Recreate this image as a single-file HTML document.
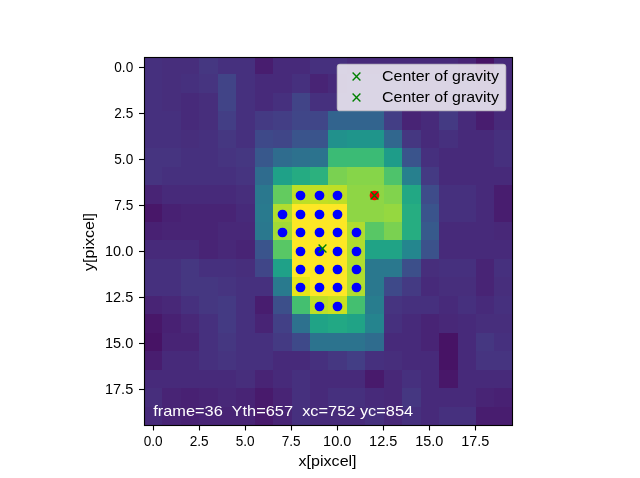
<!DOCTYPE html><html><head><meta charset="utf-8"><style>html,body{margin:0;padding:0;background:#fff;width:640px;height:478px;overflow:hidden}svg{display:block;will-change:transform}text{font-family:"Liberation Sans",sans-serif}</style></head><body>
<svg width="640" height="478" viewBox="0 0 640 478">
<rect width="640" height="478" fill="#fff"/>
<g shape-rendering="crispEdges">
<rect x="144" y="57" width="18" height="17" fill="#46307e"/>
<rect x="162" y="57" width="19" height="17" fill="#472e7c"/>
<rect x="181" y="57" width="18" height="17" fill="#472e7c"/>
<rect x="199" y="57" width="19" height="17" fill="#453781"/>
<rect x="218" y="57" width="18" height="17" fill="#46307e"/>
<rect x="236" y="57" width="19" height="17" fill="#46307e"/>
<rect x="255" y="57" width="18" height="17" fill="#481d6f"/>
<rect x="273" y="57" width="19" height="17" fill="#472a7a"/>
<rect x="292" y="57" width="18" height="17" fill="#472a7a"/>
<rect x="310" y="57" width="18" height="17" fill="#46307e"/>
<rect x="328" y="57" width="19" height="17" fill="#46307e"/>
<rect x="347" y="57" width="18" height="17" fill="#472a7a"/>
<rect x="365" y="57" width="19" height="17" fill="#472a7a"/>
<rect x="384" y="57" width="18" height="17" fill="#472a7a"/>
<rect x="402" y="57" width="19" height="17" fill="#472a7a"/>
<rect x="421" y="57" width="18" height="17" fill="#472a7a"/>
<rect x="439" y="57" width="19" height="17" fill="#472a7a"/>
<rect x="458" y="57" width="18" height="17" fill="#482475"/>
<rect x="476" y="57" width="18" height="17" fill="#471365"/>
<rect x="494" y="57" width="19" height="17" fill="#472a7a"/>
<rect x="144" y="74" width="18" height="19" fill="#46307e"/>
<rect x="162" y="74" width="19" height="19" fill="#472e7c"/>
<rect x="181" y="74" width="18" height="19" fill="#46307e"/>
<rect x="199" y="74" width="19" height="19" fill="#463480"/>
<rect x="218" y="74" width="18" height="19" fill="#414487"/>
<rect x="236" y="74" width="19" height="19" fill="#46307e"/>
<rect x="255" y="74" width="18" height="19" fill="#472a7a"/>
<rect x="273" y="74" width="19" height="19" fill="#472a7a"/>
<rect x="292" y="74" width="18" height="19" fill="#46307e"/>
<rect x="310" y="74" width="18" height="19" fill="#482475"/>
<rect x="328" y="74" width="19" height="19" fill="#472a7a"/>
<rect x="347" y="74" width="18" height="19" fill="#46307e"/>
<rect x="365" y="74" width="19" height="19" fill="#46307e"/>
<rect x="384" y="74" width="18" height="19" fill="#46307e"/>
<rect x="402" y="74" width="19" height="19" fill="#472a7a"/>
<rect x="421" y="74" width="18" height="19" fill="#472a7a"/>
<rect x="439" y="74" width="19" height="19" fill="#472a7a"/>
<rect x="458" y="74" width="18" height="19" fill="#472a7a"/>
<rect x="476" y="74" width="18" height="19" fill="#482475"/>
<rect x="494" y="74" width="19" height="19" fill="#472a7a"/>
<rect x="144" y="93" width="18" height="18" fill="#46307e"/>
<rect x="162" y="93" width="19" height="18" fill="#472e7c"/>
<rect x="181" y="93" width="18" height="18" fill="#472a7a"/>
<rect x="199" y="93" width="19" height="18" fill="#472e7c"/>
<rect x="218" y="93" width="18" height="18" fill="#414487"/>
<rect x="236" y="93" width="19" height="18" fill="#46307e"/>
<rect x="255" y="93" width="18" height="18" fill="#472a7a"/>
<rect x="273" y="93" width="19" height="18" fill="#46307e"/>
<rect x="292" y="93" width="18" height="18" fill="#414487"/>
<rect x="310" y="93" width="18" height="18" fill="#46307e"/>
<rect x="328" y="93" width="19" height="18" fill="#46307e"/>
<rect x="347" y="93" width="18" height="18" fill="#46307e"/>
<rect x="365" y="93" width="19" height="18" fill="#46307e"/>
<rect x="384" y="93" width="18" height="18" fill="#46307e"/>
<rect x="402" y="93" width="19" height="18" fill="#472a7a"/>
<rect x="421" y="93" width="18" height="18" fill="#472a7a"/>
<rect x="439" y="93" width="19" height="18" fill="#472a7a"/>
<rect x="458" y="93" width="18" height="18" fill="#472a7a"/>
<rect x="476" y="93" width="18" height="18" fill="#472a7a"/>
<rect x="494" y="93" width="19" height="18" fill="#472a7a"/>
<rect x="144" y="111" width="18" height="19" fill="#46307e"/>
<rect x="162" y="111" width="19" height="19" fill="#46307e"/>
<rect x="181" y="111" width="18" height="19" fill="#472a7a"/>
<rect x="199" y="111" width="19" height="19" fill="#472e7c"/>
<rect x="218" y="111" width="18" height="19" fill="#433e85"/>
<rect x="236" y="111" width="19" height="19" fill="#46307e"/>
<rect x="255" y="111" width="18" height="19" fill="#443a83"/>
<rect x="273" y="111" width="19" height="19" fill="#433e85"/>
<rect x="292" y="111" width="18" height="19" fill="#404688"/>
<rect x="310" y="111" width="18" height="19" fill="#404688"/>
<rect x="328" y="111" width="19" height="19" fill="#32648e"/>
<rect x="347" y="111" width="18" height="19" fill="#32648e"/>
<rect x="365" y="111" width="19" height="19" fill="#32648e"/>
<rect x="384" y="111" width="18" height="19" fill="#433e85"/>
<rect x="402" y="111" width="19" height="19" fill="#482475"/>
<rect x="421" y="111" width="18" height="19" fill="#472a7a"/>
<rect x="439" y="111" width="19" height="19" fill="#443a83"/>
<rect x="458" y="111" width="18" height="19" fill="#472a7a"/>
<rect x="476" y="111" width="18" height="19" fill="#481d6f"/>
<rect x="494" y="111" width="19" height="19" fill="#472a7a"/>
<rect x="144" y="130" width="18" height="18" fill="#46307e"/>
<rect x="162" y="130" width="19" height="18" fill="#46307e"/>
<rect x="181" y="130" width="18" height="18" fill="#472e7c"/>
<rect x="199" y="130" width="19" height="18" fill="#46307e"/>
<rect x="218" y="130" width="18" height="18" fill="#453781"/>
<rect x="236" y="130" width="19" height="18" fill="#46307e"/>
<rect x="255" y="130" width="18" height="18" fill="#3e4989"/>
<rect x="273" y="130" width="19" height="18" fill="#404688"/>
<rect x="292" y="130" width="18" height="18" fill="#3a548c"/>
<rect x="310" y="130" width="18" height="18" fill="#3a548c"/>
<rect x="328" y="130" width="19" height="18" fill="#21918c"/>
<rect x="347" y="130" width="18" height="18" fill="#1f958b"/>
<rect x="365" y="130" width="19" height="18" fill="#1f958b"/>
<rect x="384" y="130" width="18" height="18" fill="#31678e"/>
<rect x="402" y="130" width="19" height="18" fill="#453781"/>
<rect x="421" y="130" width="18" height="18" fill="#472a7a"/>
<rect x="439" y="130" width="19" height="18" fill="#46307e"/>
<rect x="458" y="130" width="18" height="18" fill="#472a7a"/>
<rect x="476" y="130" width="18" height="18" fill="#472a7a"/>
<rect x="494" y="130" width="19" height="18" fill="#46307e"/>
<rect x="144" y="148" width="18" height="19" fill="#463480"/>
<rect x="162" y="148" width="19" height="19" fill="#463480"/>
<rect x="181" y="148" width="18" height="19" fill="#46307e"/>
<rect x="199" y="148" width="19" height="19" fill="#46307e"/>
<rect x="218" y="148" width="18" height="19" fill="#463480"/>
<rect x="236" y="148" width="19" height="19" fill="#453781"/>
<rect x="255" y="148" width="18" height="19" fill="#38588c"/>
<rect x="273" y="148" width="19" height="19" fill="#2f6c8e"/>
<rect x="292" y="148" width="18" height="19" fill="#2d718e"/>
<rect x="310" y="148" width="18" height="19" fill="#2c738e"/>
<rect x="328" y="148" width="19" height="19" fill="#3bbb75"/>
<rect x="347" y="148" width="18" height="19" fill="#3bbb75"/>
<rect x="365" y="148" width="19" height="19" fill="#3bbb75"/>
<rect x="384" y="148" width="18" height="19" fill="#1e9c89"/>
<rect x="402" y="148" width="19" height="19" fill="#3a548c"/>
<rect x="421" y="148" width="18" height="19" fill="#46307e"/>
<rect x="439" y="148" width="19" height="19" fill="#472a7a"/>
<rect x="458" y="148" width="18" height="19" fill="#472a7a"/>
<rect x="476" y="148" width="18" height="19" fill="#472a7a"/>
<rect x="494" y="148" width="19" height="19" fill="#46307e"/>
<rect x="144" y="167" width="18" height="18" fill="#463480"/>
<rect x="162" y="167" width="19" height="18" fill="#46307e"/>
<rect x="181" y="167" width="18" height="18" fill="#46307e"/>
<rect x="199" y="167" width="19" height="18" fill="#46307e"/>
<rect x="218" y="167" width="18" height="18" fill="#46307e"/>
<rect x="236" y="167" width="19" height="18" fill="#463480"/>
<rect x="255" y="167" width="18" height="18" fill="#2f6c8e"/>
<rect x="273" y="167" width="19" height="18" fill="#1fa188"/>
<rect x="292" y="167" width="18" height="18" fill="#25ab82"/>
<rect x="310" y="167" width="18" height="18" fill="#2cb17e"/>
<rect x="328" y="167" width="19" height="18" fill="#7ad151"/>
<rect x="347" y="167" width="18" height="18" fill="#86d549"/>
<rect x="365" y="167" width="19" height="18" fill="#86d549"/>
<rect x="384" y="167" width="18" height="18" fill="#4ec36b"/>
<rect x="402" y="167" width="19" height="18" fill="#27808e"/>
<rect x="421" y="167" width="18" height="18" fill="#443a83"/>
<rect x="439" y="167" width="19" height="18" fill="#472a7a"/>
<rect x="458" y="167" width="18" height="18" fill="#472a7a"/>
<rect x="476" y="167" width="18" height="18" fill="#472a7a"/>
<rect x="494" y="167" width="19" height="18" fill="#472a7a"/>
<rect x="144" y="185" width="18" height="19" fill="#482475"/>
<rect x="162" y="185" width="19" height="19" fill="#472a7a"/>
<rect x="181" y="185" width="18" height="19" fill="#472a7a"/>
<rect x="199" y="185" width="19" height="19" fill="#472a7a"/>
<rect x="218" y="185" width="18" height="19" fill="#472a7a"/>
<rect x="236" y="185" width="19" height="19" fill="#472e7c"/>
<rect x="255" y="185" width="18" height="19" fill="#2a788e"/>
<rect x="273" y="185" width="19" height="19" fill="#63cb5f"/>
<rect x="292" y="185" width="18" height="19" fill="#bddf26"/>
<rect x="310" y="185" width="18" height="19" fill="#c2df23"/>
<rect x="328" y="185" width="19" height="19" fill="#bddf26"/>
<rect x="347" y="185" width="18" height="19" fill="#8ed645"/>
<rect x="365" y="185" width="19" height="19" fill="#8ed645"/>
<rect x="384" y="185" width="18" height="19" fill="#81d34d"/>
<rect x="402" y="185" width="19" height="19" fill="#22a884"/>
<rect x="421" y="185" width="18" height="19" fill="#3e4c8a"/>
<rect x="439" y="185" width="19" height="19" fill="#46307e"/>
<rect x="458" y="185" width="18" height="19" fill="#46307e"/>
<rect x="476" y="185" width="18" height="19" fill="#472a7a"/>
<rect x="494" y="185" width="19" height="19" fill="#481d6f"/>
<rect x="144" y="204" width="18" height="18" fill="#481769"/>
<rect x="162" y="204" width="19" height="18" fill="#482173"/>
<rect x="181" y="204" width="18" height="18" fill="#482475"/>
<rect x="199" y="204" width="19" height="18" fill="#482475"/>
<rect x="218" y="204" width="18" height="18" fill="#482475"/>
<rect x="236" y="204" width="19" height="18" fill="#472a7a"/>
<rect x="255" y="204" width="18" height="18" fill="#297a8e"/>
<rect x="273" y="204" width="19" height="18" fill="#b0dd2f"/>
<rect x="292" y="204" width="18" height="18" fill="#fde725"/>
<rect x="310" y="204" width="18" height="18" fill="#fde725"/>
<rect x="328" y="204" width="19" height="18" fill="#fde725"/>
<rect x="347" y="204" width="18" height="18" fill="#8ed645"/>
<rect x="365" y="204" width="19" height="18" fill="#8ed645"/>
<rect x="384" y="204" width="18" height="18" fill="#95d840"/>
<rect x="402" y="204" width="19" height="18" fill="#26ad81"/>
<rect x="421" y="204" width="18" height="18" fill="#3a548c"/>
<rect x="439" y="204" width="19" height="18" fill="#46307e"/>
<rect x="458" y="204" width="18" height="18" fill="#46307e"/>
<rect x="476" y="204" width="18" height="18" fill="#472a7a"/>
<rect x="494" y="204" width="19" height="18" fill="#481d6f"/>
<rect x="144" y="222" width="18" height="18" fill="#482173"/>
<rect x="162" y="222" width="19" height="18" fill="#482475"/>
<rect x="181" y="222" width="18" height="18" fill="#482475"/>
<rect x="199" y="222" width="19" height="18" fill="#482475"/>
<rect x="218" y="222" width="18" height="18" fill="#482878"/>
<rect x="236" y="222" width="19" height="18" fill="#482878"/>
<rect x="255" y="222" width="18" height="18" fill="#2a788e"/>
<rect x="273" y="222" width="19" height="18" fill="#a2da37"/>
<rect x="292" y="222" width="18" height="18" fill="#fde725"/>
<rect x="310" y="222" width="18" height="18" fill="#fde725"/>
<rect x="328" y="222" width="19" height="18" fill="#fde725"/>
<rect x="347" y="222" width="18" height="18" fill="#b0dd2f"/>
<rect x="365" y="222" width="19" height="18" fill="#58c765"/>
<rect x="384" y="222" width="18" height="18" fill="#7ad151"/>
<rect x="402" y="222" width="19" height="18" fill="#26ad81"/>
<rect x="421" y="222" width="18" height="18" fill="#375a8c"/>
<rect x="439" y="222" width="19" height="18" fill="#472a7a"/>
<rect x="458" y="222" width="18" height="18" fill="#472a7a"/>
<rect x="476" y="222" width="18" height="18" fill="#472a7a"/>
<rect x="494" y="222" width="19" height="18" fill="#482878"/>
<rect x="144" y="240" width="18" height="19" fill="#472a7a"/>
<rect x="162" y="240" width="19" height="19" fill="#472a7a"/>
<rect x="181" y="240" width="18" height="19" fill="#472a7a"/>
<rect x="199" y="240" width="19" height="19" fill="#482475"/>
<rect x="218" y="240" width="18" height="19" fill="#482878"/>
<rect x="236" y="240" width="19" height="19" fill="#482475"/>
<rect x="255" y="240" width="18" height="19" fill="#3a548c"/>
<rect x="273" y="240" width="19" height="19" fill="#58c765"/>
<rect x="292" y="240" width="18" height="19" fill="#fde725"/>
<rect x="310" y="240" width="18" height="19" fill="#fde725"/>
<rect x="328" y="240" width="19" height="19" fill="#fde725"/>
<rect x="347" y="240" width="18" height="19" fill="#b0dd2f"/>
<rect x="365" y="240" width="19" height="19" fill="#20a386"/>
<rect x="384" y="240" width="18" height="19" fill="#20a386"/>
<rect x="402" y="240" width="19" height="19" fill="#24868e"/>
<rect x="421" y="240" width="18" height="19" fill="#3b528b"/>
<rect x="439" y="240" width="19" height="19" fill="#472a7a"/>
<rect x="458" y="240" width="18" height="19" fill="#472a7a"/>
<rect x="476" y="240" width="18" height="19" fill="#472a7a"/>
<rect x="494" y="240" width="19" height="19" fill="#472a7a"/>
<rect x="144" y="259" width="18" height="18" fill="#46307e"/>
<rect x="162" y="259" width="19" height="18" fill="#46307e"/>
<rect x="181" y="259" width="18" height="18" fill="#453781"/>
<rect x="199" y="259" width="19" height="18" fill="#46307e"/>
<rect x="218" y="259" width="18" height="18" fill="#46307e"/>
<rect x="236" y="259" width="19" height="18" fill="#472e7c"/>
<rect x="255" y="259" width="18" height="18" fill="#404688"/>
<rect x="273" y="259" width="19" height="18" fill="#1fa188"/>
<rect x="292" y="259" width="18" height="18" fill="#fde725"/>
<rect x="310" y="259" width="18" height="18" fill="#fde725"/>
<rect x="328" y="259" width="19" height="18" fill="#fde725"/>
<rect x="347" y="259" width="18" height="18" fill="#b0dd2f"/>
<rect x="365" y="259" width="19" height="18" fill="#2a788e"/>
<rect x="384" y="259" width="18" height="18" fill="#2a788e"/>
<rect x="402" y="259" width="19" height="18" fill="#3c4f8a"/>
<rect x="421" y="259" width="18" height="18" fill="#472e7c"/>
<rect x="439" y="259" width="19" height="18" fill="#46307e"/>
<rect x="458" y="259" width="18" height="18" fill="#46307e"/>
<rect x="476" y="259" width="18" height="18" fill="#482475"/>
<rect x="494" y="259" width="19" height="18" fill="#46307e"/>
<rect x="144" y="277" width="18" height="19" fill="#46307e"/>
<rect x="162" y="277" width="19" height="19" fill="#46307e"/>
<rect x="181" y="277" width="18" height="19" fill="#453781"/>
<rect x="199" y="277" width="19" height="19" fill="#453781"/>
<rect x="218" y="277" width="18" height="19" fill="#463480"/>
<rect x="236" y="277" width="19" height="19" fill="#46307e"/>
<rect x="255" y="277" width="18" height="19" fill="#46307e"/>
<rect x="273" y="277" width="19" height="19" fill="#297a8e"/>
<rect x="292" y="277" width="18" height="19" fill="#e5e419"/>
<rect x="310" y="277" width="18" height="19" fill="#fde725"/>
<rect x="328" y="277" width="19" height="19" fill="#fde725"/>
<rect x="347" y="277" width="18" height="19" fill="#b0dd2f"/>
<rect x="365" y="277" width="19" height="19" fill="#2a788e"/>
<rect x="384" y="277" width="18" height="19" fill="#3e4989"/>
<rect x="402" y="277" width="19" height="19" fill="#443a83"/>
<rect x="421" y="277" width="18" height="19" fill="#472a7a"/>
<rect x="439" y="277" width="19" height="19" fill="#472e7c"/>
<rect x="458" y="277" width="18" height="19" fill="#472e7c"/>
<rect x="476" y="277" width="18" height="19" fill="#482475"/>
<rect x="494" y="277" width="19" height="19" fill="#472e7c"/>
<rect x="144" y="296" width="18" height="18" fill="#482475"/>
<rect x="162" y="296" width="19" height="18" fill="#482878"/>
<rect x="181" y="296" width="18" height="18" fill="#46307e"/>
<rect x="199" y="296" width="19" height="18" fill="#453781"/>
<rect x="218" y="296" width="18" height="18" fill="#443a83"/>
<rect x="236" y="296" width="19" height="18" fill="#46307e"/>
<rect x="255" y="296" width="18" height="18" fill="#481d6f"/>
<rect x="273" y="296" width="19" height="18" fill="#3c4f8a"/>
<rect x="292" y="296" width="18" height="18" fill="#44bf70"/>
<rect x="310" y="296" width="18" height="18" fill="#bddf26"/>
<rect x="328" y="296" width="19" height="18" fill="#cae11f"/>
<rect x="347" y="296" width="18" height="18" fill="#44bf70"/>
<rect x="365" y="296" width="19" height="18" fill="#287d8e"/>
<rect x="384" y="296" width="18" height="18" fill="#463480"/>
<rect x="402" y="296" width="19" height="18" fill="#46307e"/>
<rect x="421" y="296" width="18" height="18" fill="#46307e"/>
<rect x="439" y="296" width="19" height="18" fill="#472a7a"/>
<rect x="458" y="296" width="18" height="18" fill="#46307e"/>
<rect x="476" y="296" width="18" height="18" fill="#472a7a"/>
<rect x="494" y="296" width="19" height="18" fill="#46307e"/>
<rect x="144" y="314" width="18" height="19" fill="#481769"/>
<rect x="162" y="314" width="19" height="19" fill="#482173"/>
<rect x="181" y="314" width="18" height="19" fill="#482878"/>
<rect x="199" y="314" width="19" height="19" fill="#46307e"/>
<rect x="218" y="314" width="18" height="19" fill="#443a83"/>
<rect x="236" y="314" width="19" height="19" fill="#46307e"/>
<rect x="255" y="314" width="18" height="19" fill="#482475"/>
<rect x="273" y="314" width="19" height="19" fill="#424086"/>
<rect x="292" y="314" width="18" height="19" fill="#2d718e"/>
<rect x="310" y="314" width="18" height="19" fill="#20a386"/>
<rect x="328" y="314" width="19" height="19" fill="#22a884"/>
<rect x="347" y="314" width="18" height="19" fill="#20a386"/>
<rect x="365" y="314" width="19" height="19" fill="#25848e"/>
<rect x="384" y="314" width="18" height="19" fill="#46307e"/>
<rect x="402" y="314" width="19" height="19" fill="#472a7a"/>
<rect x="421" y="314" width="18" height="19" fill="#482475"/>
<rect x="439" y="314" width="19" height="19" fill="#482878"/>
<rect x="458" y="314" width="18" height="19" fill="#472a7a"/>
<rect x="476" y="314" width="18" height="19" fill="#472e7c"/>
<rect x="494" y="314" width="19" height="19" fill="#472e7c"/>
<rect x="144" y="333" width="18" height="18" fill="#471365"/>
<rect x="162" y="333" width="19" height="18" fill="#482475"/>
<rect x="181" y="333" width="18" height="18" fill="#482475"/>
<rect x="199" y="333" width="19" height="18" fill="#46307e"/>
<rect x="218" y="333" width="18" height="18" fill="#453781"/>
<rect x="236" y="333" width="19" height="18" fill="#46307e"/>
<rect x="255" y="333" width="18" height="18" fill="#46307e"/>
<rect x="273" y="333" width="19" height="18" fill="#443a83"/>
<rect x="292" y="333" width="18" height="18" fill="#3e4989"/>
<rect x="310" y="333" width="18" height="18" fill="#2c738e"/>
<rect x="328" y="333" width="19" height="18" fill="#2c738e"/>
<rect x="347" y="333" width="18" height="18" fill="#2c738e"/>
<rect x="365" y="333" width="19" height="18" fill="#2f6c8e"/>
<rect x="384" y="333" width="18" height="18" fill="#472a7a"/>
<rect x="402" y="333" width="19" height="18" fill="#472a7a"/>
<rect x="421" y="333" width="18" height="18" fill="#482475"/>
<rect x="439" y="333" width="19" height="18" fill="#471365"/>
<rect x="458" y="333" width="18" height="18" fill="#472a7a"/>
<rect x="476" y="333" width="18" height="18" fill="#453781"/>
<rect x="494" y="333" width="19" height="18" fill="#46307e"/>
<rect x="144" y="351" width="18" height="19" fill="#481d6f"/>
<rect x="162" y="351" width="19" height="19" fill="#472a7a"/>
<rect x="181" y="351" width="18" height="19" fill="#472a7a"/>
<rect x="199" y="351" width="19" height="19" fill="#46307e"/>
<rect x="218" y="351" width="18" height="19" fill="#463480"/>
<rect x="236" y="351" width="19" height="19" fill="#46307e"/>
<rect x="255" y="351" width="18" height="19" fill="#46307e"/>
<rect x="273" y="351" width="19" height="19" fill="#472a7a"/>
<rect x="292" y="351" width="18" height="19" fill="#472a7a"/>
<rect x="310" y="351" width="18" height="19" fill="#46307e"/>
<rect x="328" y="351" width="19" height="19" fill="#453781"/>
<rect x="347" y="351" width="18" height="19" fill="#433e85"/>
<rect x="365" y="351" width="19" height="19" fill="#46307e"/>
<rect x="384" y="351" width="18" height="19" fill="#472e7c"/>
<rect x="402" y="351" width="19" height="19" fill="#472a7a"/>
<rect x="421" y="351" width="18" height="19" fill="#472a7a"/>
<rect x="439" y="351" width="19" height="19" fill="#471365"/>
<rect x="458" y="351" width="18" height="19" fill="#472a7a"/>
<rect x="476" y="351" width="18" height="19" fill="#463480"/>
<rect x="494" y="351" width="19" height="19" fill="#463480"/>
<rect x="144" y="370" width="18" height="18" fill="#472a7a"/>
<rect x="162" y="370" width="19" height="18" fill="#472a7a"/>
<rect x="181" y="370" width="18" height="18" fill="#472a7a"/>
<rect x="199" y="370" width="19" height="18" fill="#472a7a"/>
<rect x="218" y="370" width="18" height="18" fill="#472a7a"/>
<rect x="236" y="370" width="19" height="18" fill="#472e7c"/>
<rect x="255" y="370" width="18" height="18" fill="#482475"/>
<rect x="273" y="370" width="19" height="18" fill="#472a7a"/>
<rect x="292" y="370" width="18" height="18" fill="#46307e"/>
<rect x="310" y="370" width="18" height="18" fill="#472a7a"/>
<rect x="328" y="370" width="19" height="18" fill="#472a7a"/>
<rect x="347" y="370" width="18" height="18" fill="#472a7a"/>
<rect x="365" y="370" width="19" height="18" fill="#481a6c"/>
<rect x="384" y="370" width="18" height="18" fill="#482878"/>
<rect x="402" y="370" width="19" height="18" fill="#46307e"/>
<rect x="421" y="370" width="18" height="18" fill="#472a7a"/>
<rect x="439" y="370" width="19" height="18" fill="#481769"/>
<rect x="458" y="370" width="18" height="18" fill="#472a7a"/>
<rect x="476" y="370" width="18" height="18" fill="#472a7a"/>
<rect x="494" y="370" width="19" height="18" fill="#472a7a"/>
<rect x="144" y="388" width="18" height="19" fill="#472e7c"/>
<rect x="162" y="388" width="19" height="19" fill="#482475"/>
<rect x="181" y="388" width="18" height="19" fill="#482173"/>
<rect x="199" y="388" width="19" height="19" fill="#482475"/>
<rect x="218" y="388" width="18" height="19" fill="#482878"/>
<rect x="236" y="388" width="19" height="19" fill="#482475"/>
<rect x="255" y="388" width="18" height="19" fill="#481a6c"/>
<rect x="273" y="388" width="19" height="19" fill="#482475"/>
<rect x="292" y="388" width="18" height="19" fill="#46307e"/>
<rect x="310" y="388" width="18" height="19" fill="#472a7a"/>
<rect x="328" y="388" width="19" height="19" fill="#46307e"/>
<rect x="347" y="388" width="18" height="19" fill="#46307e"/>
<rect x="365" y="388" width="19" height="19" fill="#472a7a"/>
<rect x="384" y="388" width="18" height="19" fill="#482878"/>
<rect x="402" y="388" width="19" height="19" fill="#453781"/>
<rect x="421" y="388" width="18" height="19" fill="#472a7a"/>
<rect x="439" y="388" width="19" height="19" fill="#472a7a"/>
<rect x="458" y="388" width="18" height="19" fill="#472a7a"/>
<rect x="476" y="388" width="18" height="19" fill="#482475"/>
<rect x="494" y="388" width="19" height="19" fill="#482173"/>
<rect x="144" y="407" width="18" height="19" fill="#472a7a"/>
<rect x="162" y="407" width="19" height="19" fill="#482475"/>
<rect x="181" y="407" width="18" height="19" fill="#482173"/>
<rect x="199" y="407" width="19" height="19" fill="#482475"/>
<rect x="218" y="407" width="18" height="19" fill="#482475"/>
<rect x="236" y="407" width="19" height="19" fill="#482475"/>
<rect x="255" y="407" width="18" height="19" fill="#481a6c"/>
<rect x="273" y="407" width="19" height="19" fill="#482475"/>
<rect x="292" y="407" width="18" height="19" fill="#46307e"/>
<rect x="310" y="407" width="18" height="19" fill="#472a7a"/>
<rect x="328" y="407" width="19" height="19" fill="#472a7a"/>
<rect x="347" y="407" width="18" height="19" fill="#472a7a"/>
<rect x="365" y="407" width="19" height="19" fill="#46307e"/>
<rect x="384" y="407" width="18" height="19" fill="#482878"/>
<rect x="402" y="407" width="19" height="19" fill="#46307e"/>
<rect x="421" y="407" width="18" height="19" fill="#472a7a"/>
<rect x="439" y="407" width="19" height="19" fill="#46307e"/>
<rect x="458" y="407" width="18" height="19" fill="#46307e"/>
<rect x="476" y="407" width="18" height="19" fill="#481d6f"/>
<rect x="494" y="407" width="19" height="19" fill="#481d6f"/>
</g>
<circle cx="300.50" cy="195.50" r="4.17" fill="#0000ff" stroke="#0000ff" stroke-width="1.39"/>
<circle cx="319.50" cy="195.50" r="4.17" fill="#0000ff" stroke="#0000ff" stroke-width="1.39"/>
<circle cx="337.50" cy="195.50" r="4.17" fill="#0000ff" stroke="#0000ff" stroke-width="1.39"/>
<circle cx="282.50" cy="214.50" r="4.17" fill="#0000ff" stroke="#0000ff" stroke-width="1.39"/>
<circle cx="300.50" cy="214.50" r="4.17" fill="#0000ff" stroke="#0000ff" stroke-width="1.39"/>
<circle cx="319.50" cy="214.50" r="4.17" fill="#0000ff" stroke="#0000ff" stroke-width="1.39"/>
<circle cx="337.50" cy="214.50" r="4.17" fill="#0000ff" stroke="#0000ff" stroke-width="1.39"/>
<circle cx="282.50" cy="232.50" r="4.17" fill="#0000ff" stroke="#0000ff" stroke-width="1.39"/>
<circle cx="300.50" cy="232.50" r="4.17" fill="#0000ff" stroke="#0000ff" stroke-width="1.39"/>
<circle cx="319.50" cy="232.50" r="4.17" fill="#0000ff" stroke="#0000ff" stroke-width="1.39"/>
<circle cx="337.50" cy="232.50" r="4.17" fill="#0000ff" stroke="#0000ff" stroke-width="1.39"/>
<circle cx="356.50" cy="232.50" r="4.17" fill="#0000ff" stroke="#0000ff" stroke-width="1.39"/>
<circle cx="300.50" cy="251.50" r="4.17" fill="#0000ff" stroke="#0000ff" stroke-width="1.39"/>
<circle cx="319.50" cy="251.50" r="4.17" fill="#0000ff" stroke="#0000ff" stroke-width="1.39"/>
<circle cx="337.50" cy="251.50" r="4.17" fill="#0000ff" stroke="#0000ff" stroke-width="1.39"/>
<circle cx="356.50" cy="251.50" r="4.17" fill="#0000ff" stroke="#0000ff" stroke-width="1.39"/>
<circle cx="300.50" cy="269.50" r="4.17" fill="#0000ff" stroke="#0000ff" stroke-width="1.39"/>
<circle cx="319.50" cy="269.50" r="4.17" fill="#0000ff" stroke="#0000ff" stroke-width="1.39"/>
<circle cx="337.50" cy="269.50" r="4.17" fill="#0000ff" stroke="#0000ff" stroke-width="1.39"/>
<circle cx="356.50" cy="269.50" r="4.17" fill="#0000ff" stroke="#0000ff" stroke-width="1.39"/>
<circle cx="300.50" cy="287.50" r="4.17" fill="#0000ff" stroke="#0000ff" stroke-width="1.39"/>
<circle cx="319.50" cy="287.50" r="4.17" fill="#0000ff" stroke="#0000ff" stroke-width="1.39"/>
<circle cx="337.50" cy="287.50" r="4.17" fill="#0000ff" stroke="#0000ff" stroke-width="1.39"/>
<circle cx="356.50" cy="287.50" r="4.17" fill="#0000ff" stroke="#0000ff" stroke-width="1.39"/>
<circle cx="319.50" cy="306.50" r="4.17" fill="#0000ff" stroke="#0000ff" stroke-width="1.39"/>
<circle cx="337.50" cy="306.50" r="4.17" fill="#0000ff" stroke="#0000ff" stroke-width="1.39"/>
<circle cx="374.50" cy="195.50" r="4.17" fill="#ff0000" stroke="#ff0000" stroke-width="1.39"/>
<path d="M370.60 191.60L378.40 199.40M370.60 199.40L378.40 191.60" stroke="#008000" stroke-width="1.39" fill="none"/>
<path d="M318.60 244.60L326.40 252.40M318.60 252.40L326.40 244.60" stroke="#008000" stroke-width="1.39" fill="none"/>
<rect x="144.5" y="57.5" width="368" height="368" fill="none" stroke="#000" stroke-width="1.11"/>
<line x1="153.50" y1="426" x2="153.50" y2="430.5" stroke="#000" stroke-width="1.11"/>
<line x1="139" y1="67.50" x2="144" y2="67.50" stroke="#000" stroke-width="1.11"/>
<line x1="199.50" y1="426" x2="199.50" y2="430.5" stroke="#000" stroke-width="1.11"/>
<line x1="139" y1="113.50" x2="144" y2="113.50" stroke="#000" stroke-width="1.11"/>
<line x1="245.50" y1="426" x2="245.50" y2="430.5" stroke="#000" stroke-width="1.11"/>
<line x1="139" y1="159.50" x2="144" y2="159.50" stroke="#000" stroke-width="1.11"/>
<line x1="291.50" y1="426" x2="291.50" y2="430.5" stroke="#000" stroke-width="1.11"/>
<line x1="139" y1="205.50" x2="144" y2="205.50" stroke="#000" stroke-width="1.11"/>
<line x1="337.50" y1="426" x2="337.50" y2="430.5" stroke="#000" stroke-width="1.11"/>
<line x1="139" y1="251.50" x2="144" y2="251.50" stroke="#000" stroke-width="1.11"/>
<line x1="383.50" y1="426" x2="383.50" y2="430.5" stroke="#000" stroke-width="1.11"/>
<line x1="139" y1="297.50" x2="144" y2="297.50" stroke="#000" stroke-width="1.11"/>
<line x1="429.50" y1="426" x2="429.50" y2="430.5" stroke="#000" stroke-width="1.11"/>
<line x1="139" y1="343.50" x2="144" y2="343.50" stroke="#000" stroke-width="1.11"/>
<line x1="475.50" y1="426" x2="475.50" y2="430.5" stroke="#000" stroke-width="1.11"/>
<line x1="139" y1="389.50" x2="144" y2="389.50" stroke="#000" stroke-width="1.11"/>
<text x="153.20" y="445.60" font-size="14.10" text-anchor="middle" textLength="18.90" lengthAdjust="spacingAndGlyphs" fill="#000">0.0</text>
<text x="133.20" y="71.96" font-size="14.10" text-anchor="end" textLength="18.90" lengthAdjust="spacingAndGlyphs" fill="#000">0.0</text>
<text x="199.21" y="445.60" font-size="14.10" text-anchor="middle" textLength="18.90" lengthAdjust="spacingAndGlyphs" fill="#000">2.5</text>
<text x="133.20" y="117.97" font-size="14.10" text-anchor="end" textLength="18.90" lengthAdjust="spacingAndGlyphs" fill="#000">2.5</text>
<text x="245.22" y="445.60" font-size="14.10" text-anchor="middle" textLength="18.90" lengthAdjust="spacingAndGlyphs" fill="#000">5.0</text>
<text x="133.20" y="163.98" font-size="14.10" text-anchor="end" textLength="18.90" lengthAdjust="spacingAndGlyphs" fill="#000">5.0</text>
<text x="291.22" y="445.60" font-size="14.10" text-anchor="middle" textLength="18.90" lengthAdjust="spacingAndGlyphs" fill="#000">7.5</text>
<text x="133.20" y="209.98" font-size="14.10" text-anchor="end" textLength="18.90" lengthAdjust="spacingAndGlyphs" fill="#000">7.5</text>
<text x="337.23" y="445.60" font-size="14.10" text-anchor="middle" textLength="28.20" lengthAdjust="spacingAndGlyphs" fill="#000">10.0</text>
<text x="133.20" y="255.99" font-size="14.10" text-anchor="end" textLength="28.20" lengthAdjust="spacingAndGlyphs" fill="#000">10.0</text>
<text x="383.24" y="445.60" font-size="14.10" text-anchor="middle" textLength="28.20" lengthAdjust="spacingAndGlyphs" fill="#000">12.5</text>
<text x="133.20" y="302.00" font-size="14.10" text-anchor="end" textLength="28.20" lengthAdjust="spacingAndGlyphs" fill="#000">12.5</text>
<text x="429.25" y="445.60" font-size="14.10" text-anchor="middle" textLength="28.20" lengthAdjust="spacingAndGlyphs" fill="#000">15.0</text>
<text x="133.20" y="348.01" font-size="14.10" text-anchor="end" textLength="28.20" lengthAdjust="spacingAndGlyphs" fill="#000">15.0</text>
<text x="475.25" y="445.60" font-size="14.10" text-anchor="middle" textLength="28.20" lengthAdjust="spacingAndGlyphs" fill="#000">17.5</text>
<text x="133.20" y="394.01" font-size="14.10" text-anchor="end" textLength="28.20" lengthAdjust="spacingAndGlyphs" fill="#000">17.5</text>
<text x="327.6" y="465.6" font-size="14.10" text-anchor="middle" textLength="58" lengthAdjust="spacingAndGlyphs">x[pixcel]</text>
<text transform="translate(93.6,242) rotate(-90)" x="0" y="0" font-size="14.10" text-anchor="middle" textLength="58" lengthAdjust="spacingAndGlyphs">y[pixcel]</text>
<text x="153.2" y="416.4" font-size="14.10" fill="#fff" textLength="260" lengthAdjust="spacingAndGlyphs" xml:space="preserve">frame=36  Yth=657  xc=752 yc=854</text>
<rect x="337.3" y="64.3" width="168.4" height="46.4" rx="2.8" ry="2.8" fill="#ffffff" fill-opacity="0.8" stroke="#cccccc" stroke-opacity="0.8" stroke-width="1.11"/>
<path d="M352.60 72.60L360.40 80.40M352.60 80.40L360.40 72.60" stroke="#008000" stroke-width="1.39" fill="none"/>
<path d="M352.60 93.60L360.40 101.40M352.60 101.40L360.40 93.60" stroke="#008000" stroke-width="1.39" fill="none"/>
<text x="382" y="80.6" font-size="14.10" textLength="117" lengthAdjust="spacingAndGlyphs">Center of gravity</text>
<text x="382" y="101.5" font-size="14.10" textLength="117" lengthAdjust="spacingAndGlyphs">Center of gravity</text>
</svg></body></html>
